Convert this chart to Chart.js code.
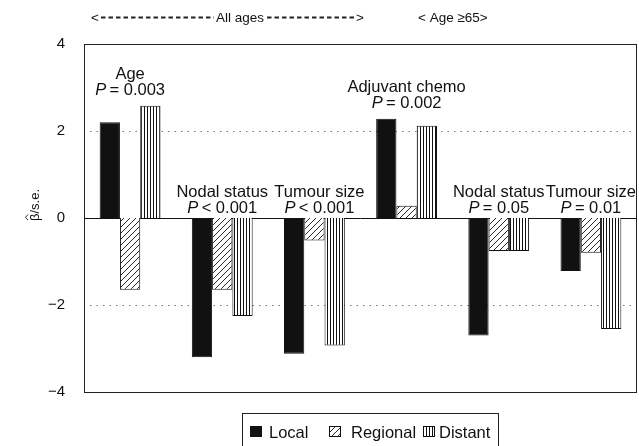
<!DOCTYPE html>
<html>
<head>
<meta charset="utf-8">
<script src="https://cdn.jsdelivr.net/npm/chart.js@4/dist/chart.umd.min.js"></script>
<style>
  html, body { margin: 0; padding: 0; background: #fff; }
  canvas { display: block; }
</style>
</head>
<body>
<canvas id="c" width="639" height="446"></canvas>
<script>
// ---- data ----
const categories = ['Age', 'Nodal status', 'Tumour size', 'Adjuvant chemo', 'Nodal status', 'Tumour size'];
const pLabels    = ['= 0.003', '< 0.001', '< 0.001', '= 0.002', '= 0.05', '= 0.01'];
const local      = [2.2, -3.2, -3.12, 2.28, -2.7, -1.22];
const regional   = [-1.65, -1.65, -0.52, 0.28, -0.76, -0.8];
const distant    = [2.58, -2.25, -2.93, 2.12, -0.76, -2.55];
const seriesNames = ['Local', 'Regional', 'Distant'];
const yTicks = [-4, -2, 0, 2, 4];
const headerAll = 'All ages';
const headerOld = '< Age \u226565>';
const yTitleBeta = '\u03B2';
const yTitleRest = '/s.e.';

const FONT = '"Liberation Sans", Arial, Helvetica, sans-serif';

function hatchPattern() {
  const c = document.createElement('canvas');
  c.width = 6; c.height = 6;
  const g = c.getContext('2d');
  g.fillStyle = '#fff'; g.fillRect(0, 0, 6, 6);
  g.strokeStyle = '#111'; g.lineWidth = 0.9;
  g.beginPath();
  g.moveTo(-1, 7); g.lineTo(7, -1);
  g.moveTo(-4, 4); g.lineTo(4, -4);
  g.moveTo(2, 10); g.lineTo(10, 2);
  g.stroke();
  return g.createPattern(c, 'repeat');
}
function stripePattern() {
  const c = document.createElement('canvas');
  c.width = 3; c.height = 4;
  const g = c.getContext('2d');
  g.fillStyle = '#fff'; g.fillRect(0, 0, 3, 4);
  g.fillStyle = '#111'; g.fillRect(0, 0, 1, 4);
  return g.createPattern(c, 'repeat');
}
const fills = ['#111', hatchPattern(), stripePattern()];

const decor = {
  id: 'decor',
  beforeDatasetsDraw(chart) {
    const ctx = chart.ctx, a = chart.chartArea, y = chart.scales.y;
    ctx.save();
    // dotted grid at +-2
    ctx.strokeStyle = '#777'; ctx.lineWidth = 1; ctx.setLineDash([1.5, 5]);
    [2, -2].forEach(v => {
      const py = Math.round(y.getPixelForValue(v)) + 0.5;
      ctx.beginPath(); ctx.moveTo(a.left + 6, py); ctx.lineTo(a.right - 6, py); ctx.stroke();
    });
    ctx.setLineDash([]);
    // frame
    ctx.strokeStyle = '#222'; ctx.lineWidth = 1;
    ctx.strokeRect(Math.round(a.left) + 0.5, Math.round(a.top) + 0.5,
                   Math.round(a.right - a.left) - 1, Math.round(a.bottom - a.top));
    // zero line
    const z = Math.round(y.getPixelForValue(0)) + 0.5;
    ctx.strokeStyle = '#111';
    ctx.beginPath(); ctx.moveTo(a.left, z); ctx.lineTo(a.right, z); ctx.stroke();
    ctx.restore();
  },
  afterDraw(chart) {
    const ctx = chart.ctx, x = chart.scales.x, y = chart.scales.y;
    const LF = '16.5px ' + FONT, LFI = 'italic 16.5px ' + FONT;
    ctx.save();
    ctx.fillStyle = '#111';
    ctx.textBaseline = 'alphabetic';
    // group annotations
    categories.forEach((name, i) => {
      const cx = x.getPixelForValue(i) + (i === 2 ? 5 : 0);
      const maxV = Math.max(0, local[i], regional[i], distant[i]);
      const top = y.getPixelForValue(maxV);
      const b2 = top - (maxV > 0 ? 11 : 5);
      const b1 = b2 - 16;
      ctx.font = LF;
      ctx.textAlign = 'center';
      ctx.fillText(name, cx, b1);
      ctx.font = LFI;
      const wP = ctx.measureText('P').width;
      ctx.font = LF;
      const rest = '\u2009' + pLabels[i];
      const wR = ctx.measureText(rest).width;
      const sx = cx - (wP + wR) / 2;
      ctx.textAlign = 'left';
      ctx.font = LFI;
      ctx.fillText('P', sx, b2);
      ctx.font = LF;
      ctx.fillText(rest, sx + wP, b2);
    });
    // y title
    ctx.save();
    ctx.translate(39, 205);
    ctx.rotate(-Math.PI / 2);
    ctx.font = '13px ' + FONT;
    ctx.textAlign = 'left';
    const wb = ctx.measureText(yTitleBeta).width;
    const wr = ctx.measureText(yTitleRest).width;
    const x0 = -(wb + wr) / 2;
    ctx.fillText(yTitleBeta, x0, 0);
    ctx.fillText(yTitleRest, x0 + wb, 0);
    ctx.strokeStyle = '#111'; ctx.lineWidth = 0.9;
    ctx.beginPath();
    ctx.moveTo(x0 + 1, -11); ctx.lineTo(x0 + wb / 2, -13.5); ctx.lineTo(x0 + wb - 1, -11);
    ctx.stroke();
    ctx.restore();
    // header
    ctx.font = '13.5px ' + FONT;
    ctx.textAlign = 'left';
    ctx.fillText('<', 91, 22);
    ctx.fillText(headerAll, 216, 22);
    ctx.fillText('>', 356, 22);
    ctx.fillText(headerOld, 418, 22);
    ctx.strokeStyle = '#222'; ctx.lineWidth = 2; ctx.setLineDash([4.5, 3]);
    ctx.beginPath(); ctx.moveTo(101, 17.5); ctx.lineTo(214, 17.5); ctx.stroke();
    ctx.beginPath(); ctx.moveTo(267, 17.5); ctx.lineTo(355, 17.5); ctx.stroke();
    ctx.setLineDash([]);
    // legend
    ctx.strokeStyle = '#222'; ctx.lineWidth = 1;
    ctx.strokeRect(242.5, 413.5, 256, 40);
    const boxX = [250, 329, 423];
    const txtX = [269, 351, 439];
    ctx.font = '16.5px ' + FONT;
    seriesNames.forEach((n, i) => {
      ctx.fillStyle = chart.data.datasets[i].backgroundColor;
      ctx.fillRect(boxX[i], 426, 12, 11);
      ctx.strokeStyle = '#111';
      ctx.strokeRect(boxX[i] + 0.5, 426.5, 11, 10);
      ctx.fillStyle = '#111';
      ctx.fillText(n, txtX[i], 438);
    });
    ctx.restore();
  }
};

new Chart(document.getElementById('c'), {
  type: 'bar',
  data: {
    labels: categories,
    datasets: [local, regional, distant].map((d, i) => ({
      label: seriesNames[i],
      data: d,
      backgroundColor: fills[i],
      borderColor: '#111',
      borderWidth: 1,
      borderSkipped: 'start',
      categoryPercentage: 0.66,
      barPercentage: 1.0
    }))
  },
  options: {
    responsive: false,
    animation: false,
    events: [],
    layout: { padding: { top: 44, bottom: 54, right: 2, left: 0 } },
    plugins: { legend: { display: false }, tooltip: { enabled: false } },
    scales: {
      x: { display: false },
      y: {
        min: -4, max: 4,
        afterBuildTicks: s => { s.ticks = yTicks.map(v => ({ value: v })); },
        afterFit: s => { s.width = 84; },
        grid: { display: false, drawTicks: false },
        border: { display: false },
        ticks: {
          padding: 19,
          color: '#111',
          font: { family: FONT, size: 15 },
          callback: v => (v < 0 ? '\u2212' + Math.abs(v) : String(v))
        }
      }
    }
  },
  plugins: [decor]
});
</script>
</body>
</html>
